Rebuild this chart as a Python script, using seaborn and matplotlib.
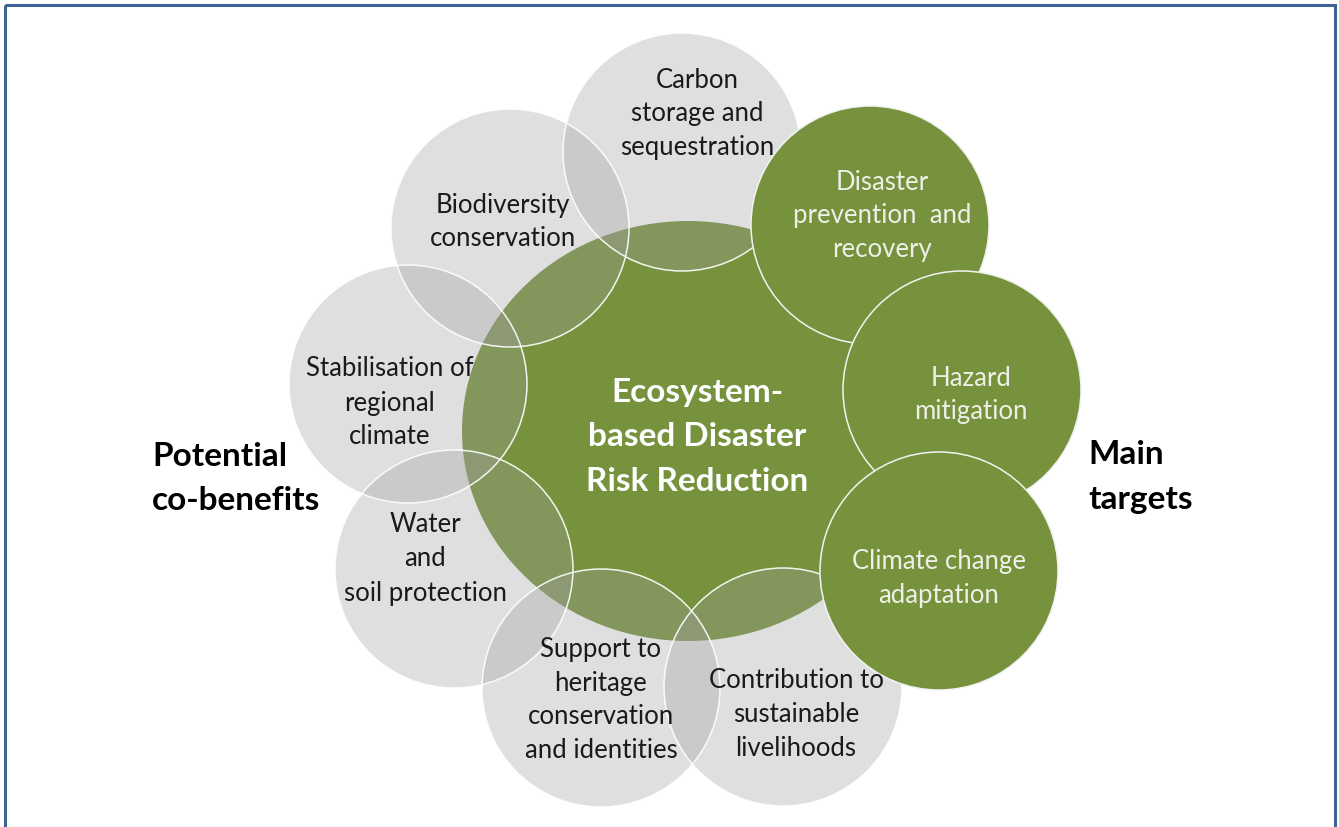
import numpy as np
import seaborn as sns
import matplotlib.pyplot as plt
from matplotlib.patches import Circle, Ellipse, Rectangle

# diagram content
core_label = ["Ecosystem-", "based Disaster", "Risk Reduction"]

benefit_labels = [
    ["Carbon", "storage and", "sequestration"],
    ["Biodiversity", "conservation"],
    ["Stabilisation of", "regional", "climate"],
    ["Water", "and", "soil protection"],
    ["Support to", "heritage", "conservation", "and identities"],
    ["Contribution to", "sustainable", "livelihoods"],
]
target_labels = [
    ["Disaster", "prevention  and", "recovery"],
    ["Hazard", "mitigation"],
    ["Climate change", "adaptation"],
]
side_labels = [["Potential", "co-benefits"], ["Main", "targets"]]

# layout (pixel space of the 1339x827 canvas)
W, H = 1339, 827
R = 119
core_xy, core_w, core_h = (688, 431), 452, 420
benefit_xy = [(682, 152), (510, 228), (408, 384), (454, 569), (601, 688), (783, 687)]
benefit_text_xy = [(697, 114), (503, 222), (390, 403), (425, 559), (601, 700), (796, 715)]
target_xy = [(870, 225), (962, 390), (939, 571)]
target_text_xy = [(882, 216), (971, 395), (939, 578)]
side_text_xy = [(152, 478), (1088, 477)]

GREEN = "#76923c"
GRAY = "#a0a0a0"
FONT = ["Lato", "DejaVu Sans"]

sns.set_theme(style="white")
plt.rcParams["font.family"] = FONT

fig = plt.figure(figsize=(W / 100, H / 100), dpi=100)
ax = fig.add_axes([0, 0, 1, 1])
ax.set_xlim(0, W)
ax.set_ylim(H, 0)
ax.set_aspect("equal")
ax.axis("off")


def put_lines(x, y, lines, gap, **kw):
    n = len(lines)
    for i, s in enumerate(lines):
        ax.text(x, y + (i - (n - 1) / 2) * gap, s, va="center", **kw)


# frame
ax.add_patch(Rectangle((5, 5), 1330, 900, fill=False, ec="#3f6296", lw=2.2, zorder=0))

# central ellipse
ax.add_patch(Ellipse(core_xy, core_w, core_h, fc=GREEN, ec="none", zorder=1))

# co-benefit circles (translucent)
for xy in benefit_xy:
    ax.add_patch(Circle(xy, R, fc=GRAY, alpha=0.33, ec="none", zorder=2))
    ax.add_patch(Circle(xy, R, fc="none", ec="white", lw=1.1, alpha=0.9, zorder=2.5))

# main target circles (opaque, later ones on top)
for k, xy in enumerate(target_xy):
    ax.add_patch(Circle(xy, R, fc=GREEN, ec="#f2f2f2", lw=1.1, zorder=3 + k))

for (x, y), lines in zip(benefit_text_xy, benefit_labels):
    put_lines(x, y, lines, 34, ha="center", fontsize=18.5, color="#1a1a1a", zorder=10)

for (x, y), lines in zip(target_text_xy, target_labels):
    put_lines(x, y, lines, 34, ha="center", fontsize=18.5, color="#eef0e8", zorder=10)

put_lines(697, 437, core_label, 44.5, ha="center", fontsize=24, color="white",
          fontweight="bold", zorder=10)

for (x, y), lines in zip(side_text_xy, side_labels):
    put_lines(x, y, lines, 44, ha="left", fontsize=24, color="black",
              fontweight="bold", zorder=10)

fig.savefig("out.png", dpi=100, facecolor="white")
